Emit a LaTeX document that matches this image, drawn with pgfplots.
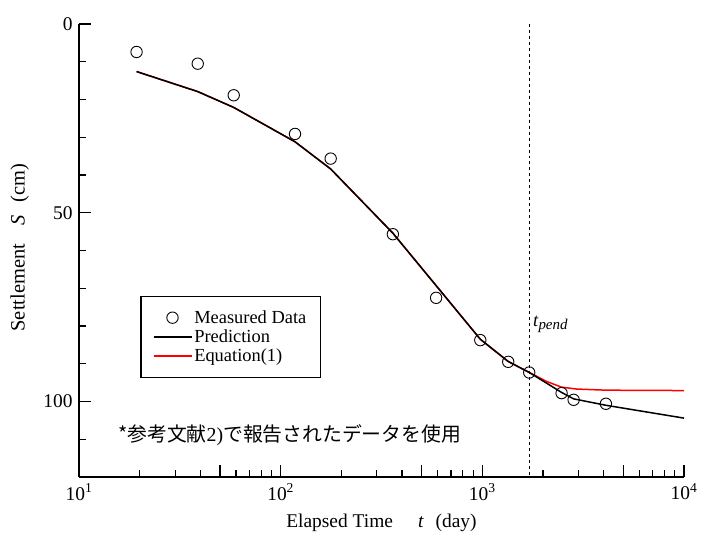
\documentclass[border=0pt]{standalone}
\usepackage{fontspec}
\setmainfont{Liberation Serif}
\newfontfamily\jpfont{Noto Sans CJK JP}
\usepackage{pgfplots}
\pgfplotsset{compat=1.18}

\newcommand{\fs}{\fontsize{18.5}{20}\selectfont}
\newcommand{\ft}{\fontsize{19.5}{21}\selectfont}

\begin{document}
\begin{tikzpicture}
\begin{axis}[
  at={(0,0)}, anchor=south west, scale only axis,
  width=605bp, height=453bp,
  xmode=log, xmin=10, xmax=10000,
  ymin=0, ymax=120, y dir=reverse,
  axis x line*=bottom, axis y line*=left,
  axis line style={line width=1.5bp, -},
  xtick={10,100,1000,10000},
  xticklabels={10\textsuperscript{1},10\textsuperscript{2},10\textsuperscript{3},10\textsuperscript{4}},
  minor xtick={20,30,40,50,60,70,80,90,200,300,400,500,600,700,800,900,2000,3000,4000,5000,6000,7000,8000,9000},
  extra x ticks={50,500,5000}, extra x tick labels={},
  extra x tick style={major tick length=12bp},
  ytick={0,50,100},
  minor ytick={10,20,30,40,60,70,80,90,110},
  tick style={line width=1.2bp, black},
  major tick length=12bp, minor tick length=7bp,
  tick align=inside,
  /pgf/number format/assume math mode=true,
  ticklabel style={font=\ft},
  xticklabel style={yshift=-3bp},
  yticklabel style={xshift=-3bp},
  xlabel style={font=\ft, yshift=-7bp},
  ylabel style={font=\fontsize{20.5}{22}\selectfont, xshift=3bp, yshift=7.5bp},
  xlabel={Elapsed Time\hspace{1.3em}\textit{t}\hspace{0.6em}(day)},
  ylabel={Settlement\hspace{0.9em}\textit{S}\hspace{0.65em}(cm)},
  reverse legend,
  legend style={at={(axis cs:20.07,72)}, anchor=north west, draw=black, line width=1.5bp,
    font=\fontsize{18.5}{19}\selectfont, inner xsep=12bp, inner ysep=12bp,
    row sep=1bp},
  legend cell align=left,
  legend image code/.code={\draw[mark repeat=2,mark phase=2,#1] plot coordinates {(0bp,0bp) (19bp,0bp) (38bp,0bp)};},
  clip=false,
]
\addplot[black, dashed, line width=0.8bp, forget plot] coordinates {(1720,0) (1720,120)};

\addplot[red, line width=1.5bp] coordinates {
(19.3,12.6) (38.8,17.9) (58.5,22.1) (117.8,31.2) (177,38.4) (360,55.4) (590,69.3) (977,83.5) (1344,89.4) (1708,92.3) (2085,94.7) (2472,96.2) (2936,96.7) (4100,97.0) (10000,97.1)};
\addlegendentry{Equation(1)}

\addplot[black, line width=1.5bp] coordinates {
(19.3,12.6) (38.8,17.9) (58.5,22.1) (117.8,31.2) (177,38.4) (360,55.4) (590,69.3) (977,83.5) (1344,89.4) (1708,92.3) (2472,97.6) (2836,99.3) (4100,101.0) (10000,104.4)};
\addlegendentry{Prediction}

\addplot[only marks, mark=o, mark size=5.7bp, mark options={line width=0.9bp, black}] coordinates {
(19.3,7.41) (38.8,10.51) (58.5,18.88) (117.8,29.12) (177,35.66) (360,55.68) (590,72.54) (977,83.74) (1344,89.49) (1708,92.32) (2472,97.78) (2836,99.55) (4100,100.6)};
\addlegendentry{Measured Data}

\node[anchor=base west, inner sep=0pt, font=\fs] at (axis cs:1720,80.2) [xshift=3bp]
  {\textit{t}\raisebox{-3bp}{\fontsize{15}{16}\selectfont\textit{pend}}};

\node[anchor=west, inner sep=0pt, font=\fontsize{19.9}{21}\selectfont] at (axis cs:15.6,108.8)
  {\jpfont *参考文献{\rmfamily 2)}で報告されたデータを使用};
\end{axis}
\pgfresetboundingbox
\path[use as bounding box] (-79bp,-56bp) rectangle (623bp,477bp);
\end{tikzpicture}
\end{document}
